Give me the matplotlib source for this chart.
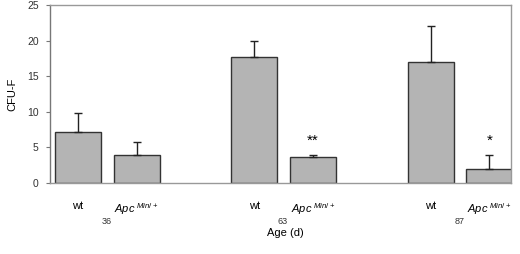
import matplotlib
matplotlib.use('Agg')
from matplotlib import pyplot as plt
import matplotlib.transforms as mtransforms

plt.rcParams['font.family'] = ['Liberation Sans', 'DejaVu Sans']
plt.rcParams['mathtext.fontset'] = 'custom'
plt.rcParams['mathtext.it'] = 'Liberation Sans:italic'
plt.rcParams['mathtext.rm'] = 'Liberation Sans'

# data
ages = ['36', '63', '87']
genotypes = ['wt', r'$Apc^{\ Min/+}$']
means = [7.2, 3.9, 17.7, 3.7, 17.0, 2.0]
err_top = [9.8, 5.7, 19.9, 3.95, 22.0, 3.95]
stars = ['', '', '', '**', '', '*']

positions = [0, 1, 3, 4, 6, 7]
upper = [t - m for t, m in zip(err_top, means)]
lower = [0] * len(means)

fig = plt.figure(figsize=(5.2, 2.54), dpi=100)
ax = fig.add_axes([0.096, 0.2795, 0.887, 0.7005])

ax.bar(positions, means, width=0.78, color='#b4b4b4', edgecolor='#333333',
       linewidth=1, zorder=2)
ax.errorbar(positions, means, yerr=[lower, upper], fmt='none', ecolor='#222222',
            elinewidth=1, capsize=3, capthick=1, zorder=3)

for x, s in zip(positions, stars):
    if s:
        ax.text(x, 5.0, s, ha='center', va='bottom', fontsize=11)

ax.set_xlim(-0.475, 7.37)
ax.set_ylim(0, 25)
ax.set_yticks([0, 5, 10, 15, 20, 25])
ax.tick_params(axis='y', labelsize=7.5, length=3, pad=5, color='#777777',
               labelcolor='#333333')

ax.set_xticks(positions)
ax.set_xticklabels(genotypes * len(ages), fontsize=8)
ax.tick_params(axis='x', length=0, pad=13)

trans = mtransforms.blended_transform_factory(ax.transData, ax.transAxes)
for i, a in enumerate(ages):
    ax.text(positions[2 * i] + 0.49, -0.215, a, transform=trans,
            ha='center', va='center', fontsize=6.5, color='#333333')

ax.set_xlabel('Age (d)', fontsize=8)
ax.xaxis.set_label_coords(0.51, -0.255)
ax.set_ylabel('CFU-F', fontsize=8, labelpad=7)

for sp in ax.spines.values():
    sp.set_color('#999999')
    sp.set_linewidth(1)
ax.spines['left'].set_color('#777777')

fig.savefig('out.png', dpi=100)
